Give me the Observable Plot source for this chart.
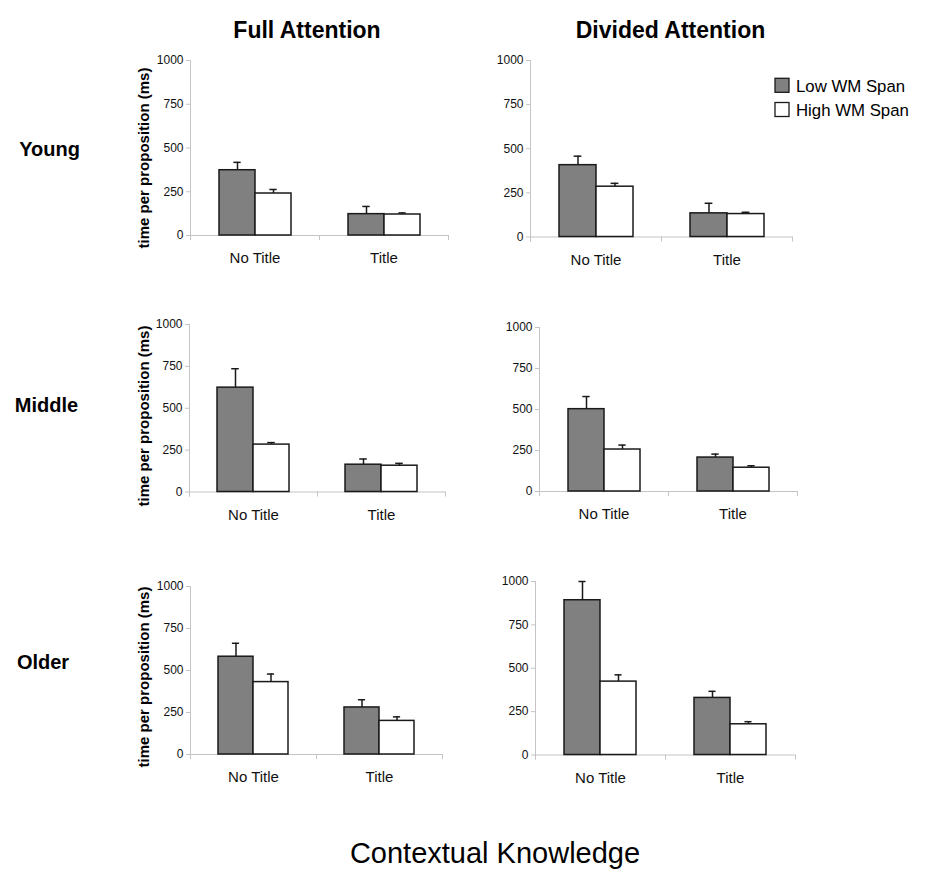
<!DOCTYPE html>
<html>
<head>
<meta charset="utf-8">
<script src="https://cdn.jsdelivr.net/npm/d3@7"></script>
<script src="https://cdn.jsdelivr.net/npm/@observablehq/plot@0.6"></script>
<style>
  body { margin: 0; background: #fff; }
  #chart { position: relative; width: 925px; height: 882px; background: #fff; overflow: hidden;
           font-family: "Liberation Sans", Arial, sans-serif; }
  .panel { position: absolute; }
  .panel svg { background: transparent !important; }
  #overlay { position: absolute; left: 0; top: 0; pointer-events: none; }
</style>
</head>
<body>
<div id="chart"></div>
<script>
// ---------- data ----------
const ages = ["Young", "Middle", "Older"];
const attentions = ["Full Attention", "Divided Attention"];
const conditions = ["No Title", "Title"];
const groups = ["Low WM Span", "High WM Span"];
const yTicks = [0, 250, 500, 750, 1000];
const yLabel = "time per proposition (ms)";
const xTitle = "Contextual Knowledge";

// panel order: Young-Full, Young-Divided, Middle-Full, Middle-Divided, Older-Full, Older-Divided
const panelAge = ["Young", "Young", "Middle", "Middle", "Older", "Older"];
const panelAttention = ["Full Attention", "Divided Attention", "Full Attention", "Divided Attention", "Full Attention", "Divided Attention"];
const lowNoTitle  = [373, 407, 623, 502, 582, 892];
const lowTitle    = [122, 134, 163, 207, 280, 329];
const highNoTitle = [240, 285, 283, 256, 431, 423];
const highTitle   = [120, 130, 157, 145, 200, 177];
const lowNoTitleErr  = [45, 51, 113, 77, 80, 108];
const lowTitleErr    = [44, 57, 34, 21, 46, 38];
const highNoTitleErr = [23, 19, 12, 27, 48, 39];
const highTitleErr   = [9, 10, 14, 12, 24, 15];

// ---------- styles / layout ----------
const groupFill = ["#808080", "#ffffff"];
const ink = "#1a1a1a";
const axisGray = "#c4c4c4";
const font = "'Liberation Sans', Arial, sans-serif";
const ML = 45, MR = 10, MT = 10, MB = 40;
const frames = [
  {x0: 190,   x1: 448,   y0: 59.5,  y1: 234.5},
  {x0: 530,   x1: 792,   y0: 60,    y1: 236.5},
  {x0: 188.5, x1: 445,   y0: 324,   y1: 491.5},
  {x0: 538.5, x1: 796.5, y0: 326.5, y1: 490.5},
  {x0: 190,   x1: 442,   y0: 585.5, y1: 753.5},
  {x0: 535,   x1: 795,   y0: 581,   y1: 754.5}
];
const outerPad = 0.76;   // x band outer padding (in steps) inside each category
const capWidth = 8;

const means = [[lowNoTitle, lowTitle], [highNoTitle, highTitle]];
const errs = [[lowNoTitleErr, lowTitleErr], [highNoTitleErr, highTitleErr]];

const chart = document.getElementById("chart");

frames.forEach((f, p) => {
  const rows = [];
  conditions.forEach((c, ci) => groups.forEach((g, gi) => {
    rows.push({condition: c, group: g, mean: means[gi][ci][p], err: errs[gi][ci][p]});
  }));
  const innerW = f.x1 - f.x0, innerH = f.y1 - f.y0;
  const step = (innerW / conditions.length) / (groups.length + 2 * outerPad);
  const capInset = (step - capWidth) / 2;

  const plot = Plot.plot({
    width: innerW + ML + MR,
    height: innerH + MT + MB,
    marginLeft: ML, marginRight: MR, marginTop: MT, marginBottom: MB,
    style: {fontFamily: font, background: "transparent", color: "#111"},
    fx: {domain: conditions, padding: 0, label: null},
    x: {domain: groups, paddingInner: 0, paddingOuter: outerPad, axis: null},
    y: {domain: [0, 1000], label: null},
    color: {domain: groups, range: groupFill},
    marks: [
      Plot.ruleY([0], {stroke: axisGray}),
      Plot.frame({anchor: "left", stroke: axisGray, facetAnchor: "left", insetBottom: -4}),
      Plot.frame({anchor: "left", stroke: axisGray, insetTop: innerH, insetBottom: -4}),
      Plot.frame({anchor: "right", stroke: axisGray, facetAnchor: "right", insetTop: innerH, insetBottom: -4}),
      Plot.axisY({ticks: yTicks, tickFormat: d => String(d), tickSize: 4, tickPadding: 3, stroke: axisGray, fill: "#111", fontSize: 12, label: null}),
      Plot.axisFx({anchor: "bottom", tickSize: 0, tickPadding: 17, fontSize: 15, fill: "#111", label: null}),
      Plot.ruleX(rows, {fx: "condition", x: "group", y1: "mean", y2: d => d.mean + d.err, stroke: ink, strokeWidth: 1.5}),
      Plot.tickY(rows, {fx: "condition", x: "group", y: d => d.mean + d.err, stroke: ink, strokeWidth: 1.5, insetLeft: capInset, insetRight: capInset}),
      Plot.barY(rows, {fx: "condition", x: "group", y: "mean", fill: "group", stroke: ink, strokeWidth: 1.5})
    ]
  });
  const div = document.createElement("div");
  div.className = "panel";
  div.style.left = (f.x0 - ML) + "px";
  div.style.top = (f.y0 - MT) + "px";
  div.style.width = (innerW + ML + MR) + "px";
  div.appendChild(plot);
  chart.appendChild(div);
});

// ---------- titles, labels, legend ----------
const colTitleX = [307, 670.5], colTitleY = 37.5;
const rowLabelX = [49.5, 46.5, 43], rowLabelY = [155.7, 412, 669];
const yLabelX = 149, yLabelY = [158, 416, 677];
const legendX = 775, legendY = [78.3, 102.5], legendSize = 14;

const svg = d3.select(chart).append("svg")
  .attr("id", "overlay").attr("width", 925).attr("height", 882)
  .style("font-family", font).attr("fill", "#000");

svg.selectAll(null).data(attentions).join("text")
  .attr("x", (d, i) => colTitleX[i]).attr("y", colTitleY)
  .attr("text-anchor", "middle").attr("font-weight", "bold").attr("font-size", 23)
  .text(d => d);

svg.selectAll(null).data(ages).join("text")
  .attr("x", (d, i) => rowLabelX[i]).attr("y", (d, i) => rowLabelY[i])
  .attr("text-anchor", "middle").attr("font-weight", "bold").attr("font-size", 20)
  .text(d => d);

svg.selectAll(null).data(yLabelY).join("text")
  .attr("transform", d => `translate(${yLabelX},${d}) rotate(-90)`)
  .attr("text-anchor", "middle").attr("font-weight", "bold").attr("font-size", 15)
  .text(yLabel);

const lg = svg.selectAll(null).data(groups).join("g")
  .attr("transform", (d, i) => `translate(${legendX},${legendY[i]})`);
lg.append("rect").attr("width", legendSize).attr("height", legendSize)
  .attr("fill", (d, i) => groupFill[i]).attr("stroke", ink).attr("stroke-width", 1.3);
lg.append("text").attr("x", 21).attr("y", 13.4).attr("font-size", 16.8).text(d => d);

svg.append("text").attr("x", 495).attr("y", 863.3)
  .attr("text-anchor", "middle").attr("font-size", 29).text(xTitle);
</script>
</body>
</html>
